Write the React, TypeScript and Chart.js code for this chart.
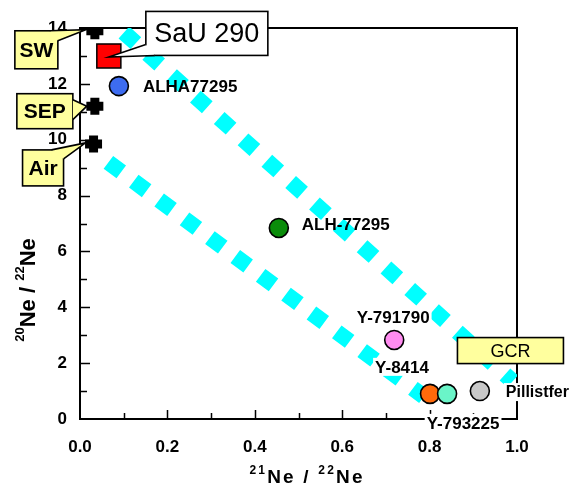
import { useEffect, useRef } from 'react';
import { Chart, registerables } from 'chart.js';

Chart.register(...registerables);

// ---------- data ----------
const xTickLabels = ['0.0', '0.2', '0.4', '0.6', '0.8', '1.0'];
const yTickLabels = ['0', '2', '4', '6', '8', '10', '12', '14'];

const componentNames = ['SW', 'SEP', 'Air'];
const componentX = [0.034, 0.034, 0.031];
const componentY = [13.9, 11.2, 9.85];

const sauName = 'SaU 290';
const sauX = [0.066];
const sauY = [13.0];

const meteoriteNames = ['ALHA77295', 'ALH-77295', 'Y-791790', 'Y-8414', 'Y-793225', 'Pillistfer'];
const meteoriteX = [0.089, 0.455, 0.719, 0.801, 0.84, 0.915];
const meteoriteY = [11.92, 6.84, 2.83, 0.9, 0.9, 1.0];
const meteoriteColors = ['#3d6cf0', '#0a8c0a', '#ff8cf0', '#ff6a0a', '#6af5c8', '#c8c8c8'];

const upperBandX = [0.1005, 0.99];
const upperBandY = [13.84, 1.35];
const lowerBandX = [0.065, 0.787];
const lowerBandY = [9.19, 0.806];

const gcrLabel = 'GCR';
const gcrX = [0.985];
const gcrY = [2.45];

// ---------- styles ----------
const F = '"Liberation Sans", Arial, sans-serif';
const YELLOW = '#ffff9e';

// label placement (pixel offsets from marker), white = knock-out background
const labelStyles = [
  { dx: 24, dy: 0, align: 'left', white: false, size: 17 },
  { dx: 23, dy: -4, align: 'left', white: false, size: 17 },
  { dx: -1, dy: -23, align: 'center', white: true, size: 17 },
  { dx: -28, dy: -27, align: 'center', white: true, size: 17 },
  { dx: 16, dy: 29, align: 'center', white: true, size: 17 },
  { dx: 26, dy: 1, align: 'left', white: true, size: 16 },
];

// callout boxes relative to the marker pixel
const calloutStyles = [
  { dx: -80, dy: 0, w: 43, h: 38, size: 21 },
  { dx: -78, dy: -12.5, w: 56, h: 35, size: 21 },
  { dx: -71, dy: 6, w: 41, h: 36, size: 21 },
];

function drawRich(ctx: CanvasRenderingContext2D, parts: { t: string; font: string; dy: number }[], x: number, y: number, spacing: number) {
  const widths = parts.map((p) => {
    ctx.font = p.font;
    let w = 0;
    for (const ch of p.t) w += ctx.measureText(ch).width + spacing;
    return w;
  });
  const total = widths.reduce((a, b) => a + b, 0) - spacing;
  let cx = x - total / 2;
  ctx.textAlign = 'left';
  ctx.textBaseline = 'alphabetic';
  parts.forEach((p) => {
    ctx.font = p.font;
    for (const ch of p.t) {
      ctx.fillText(ch, cx, y + p.dy);
      cx += ctx.measureText(ch).width + spacing;
    }
  });
}

function callout(ctx: CanvasRenderingContext2D, bx: number, by: number, w: number, h: number, fill: string, poly: number[][], text: string, font: string) {
  ctx.save();
  ctx.lineWidth = 1.6;
  ctx.strokeStyle = '#000';
  ctx.fillStyle = fill;
  ctx.fillRect(bx, by, w, h);
  ctx.strokeRect(bx, by, w, h);
  if (poly.length) {
    ctx.beginPath();
    ctx.moveTo(poly[0][0], poly[0][1]);
    ctx.lineTo(poly[1][0], poly[1][1]);
    ctx.lineTo(poly[2][0], poly[2][1]);
    ctx.closePath();
    ctx.fill();
    ctx.beginPath();
    ctx.moveTo(poly[0][0], poly[0][1]);
    ctx.lineTo(poly[1][0], poly[1][1]);
    ctx.lineTo(poly[2][0], poly[2][1]);
    ctx.stroke();
  }
  ctx.fillStyle = '#000';
  ctx.font = font;
  ctx.textAlign = 'center';
  ctx.textBaseline = 'middle';
  ctx.fillText(text, bx + w / 2, by + h / 2 + 1);
  ctx.restore();
}

const decorPlugin = {
  id: 'decor',
  beforeDatasetsDraw(chart: any) {
    const { ctx, chartArea: a, scales } = chart;
    const xs = scales.x;
    const ys = scales.y;
    ctx.save();
    ctx.strokeStyle = '#000';
    ctx.lineWidth = 2;
    ctx.strokeRect(a.left, a.top, a.right - a.left, a.bottom - a.top);
    ctx.lineWidth = 1.5;
    ctx.beginPath();
    for (let i = 1; i < 10; i++) {
      const v = i / 10;
      const px = Math.round(xs.getPixelForValue(v)) + 0.5;
      const len = i % 2 === 0 ? 9 : 6;
      ctx.moveTo(px, a.bottom);
      ctx.lineTo(px, a.bottom - len);
    }
    for (let i = 1; i < 14; i++) {
      const py = Math.round(ys.getPixelForValue(i)) + 0.5;
      const len = i % 2 === 0 ? 10 : 7;
      ctx.moveTo(a.left, py);
      ctx.lineTo(a.left + len, py);
    }
    ctx.stroke();
    ctx.restore();
  },
  afterDatasetsDraw(chart: any) {
    const { ctx, scales } = chart;
    const xs = scales.x;
    const ys = scales.y;
    ctx.save();
    // meteorite labels
    meteoriteNames.forEach((name, i) => {
      const st = labelStyles[i];
      const px = xs.getPixelForValue(meteoriteX[i]) + st.dx;
      const py = ys.getPixelForValue(meteoriteY[i]) + st.dy;
      ctx.font = `bold ${st.size}px ${F}`;
      const w = ctx.measureText(name).width;
      const left = st.align === 'center' ? px - w / 2 : px;
      if (st.white) {
        ctx.fillStyle = '#fff';
        ctx.fillRect(left - 2, py - 9, w + 4, 18);
      }
      ctx.fillStyle = '#000';
      ctx.textAlign = 'left';
      ctx.textBaseline = 'middle';
      ctx.fillText(name, left, py + 1);
    });
    // component callouts
    componentNames.forEach((name, i) => {
      const st = calloutStyles[i];
      const px = xs.getPixelForValue(componentX[i]);
      const py = ys.getPixelForValue(componentY[i]);
      const bx = px + st.dx;
      const by = py + st.dy;
      const r = bx + st.w;
      let poly: number[][];
      if (i === 0) poly = [[r - 8, by], [px - 9, py - 1], [r, by + 10]];
      else if (i === 1) poly = [[r, by + 6], [px - 8, py], [r, by + 26]];
      else poly = [[r - 12, by], [px - 8, py - 1], [r, by + 9]];
      callout(ctx, bx, by, st.w, st.h, YELLOW, poly, name, `bold ${st.size}px ${F}`);
    });
    // SaU 290 callout
    {
      const px = xs.getPixelForValue(sauX[0]);
      const py = ys.getPixelForValue(sauY[0]);
      const bx = px + 37;
      const by = py - 44.5;
      const w = 122;
      const h = 44;
      callout(ctx, bx, by, w, h, '#fff', [[bx, by + h - 11], [px, py + 1], [bx + 9, by + h]], sauName, `27px ${F}`);
    }
    // GCR box
    {
      const cx = xs.getPixelForValue(gcrX[0]);
      const cy = ys.getPixelForValue(gcrY[0]);
      callout(ctx, cx - 53, cy - 13, 106, 26, YELLOW, [], gcrLabel, `18px ${F}`);
    }
    // axis titles
    ctx.fillStyle = '#000';
    drawRich(ctx, [
      { t: '21', font: `bold 12px ${F}`, dy: -9 },
      { t: 'Ne / ', font: `bold 19px ${F}`, dy: 0 },
      { t: '22', font: `bold 12px ${F}`, dy: -9 },
      { t: 'Ne', font: `bold 19px ${F}`, dy: 0 },
    ], 306, 483, 2.2);
    ctx.save();
    ctx.translate(35, 290);
    ctx.rotate(-Math.PI / 2);
    drawRich(ctx, [
      { t: '20', font: `bold 13px ${F}`, dy: -11 },
      { t: 'Ne / ', font: `bold 22px ${F}`, dy: 0 },
      { t: '22', font: `bold 13px ${F}`, dy: -11 },
      { t: 'Ne', font: `bold 22px ${F}`, dy: 0 },
    ], 0, 0, 0);
    ctx.restore();
    ctx.restore();
  },
};

export default function App() {
  const ref = useRef<HTMLCanvasElement>(null);
  useEffect(() => {
    const canvas = ref.current;
    if (!canvas) return;
    const chart = new Chart(canvas, {
      type: 'scatter',
      data: {
        datasets: [
          {
            label: 'components',
            data: componentX.map((x, i) => ({ x, y: componentY[i] })),
            pointStyle: 'cross',
            pointRadius: 8.5,
            pointBorderWidth: 9,
            borderColor: '#000',
            backgroundColor: '#000',
            order: 1,
          },
          {
            label: sauName,
            data: sauX.map((x, i) => ({ x, y: sauY[i] })),
            pointStyle: 'rect',
            pointRadius: 17,
            pointBorderWidth: 1.5,
            borderColor: '#000',
            backgroundColor: '#ff0000',
            order: 1,
          },
          {
            label: 'meteorites',
            data: meteoriteX.map((x, i) => ({ x, y: meteoriteY[i] })),
            pointStyle: 'circle',
            pointRadius: 9.5,
            pointBorderWidth: 1.6,
            borderColor: '#000',
            backgroundColor: meteoriteColors,
            order: 0,
          },
          {
            label: 'upper',
            data: upperBandX.map((x, i) => ({ x, y: upperBandY[i] })),
            showLine: true,
            pointRadius: 0,
            borderColor: '#00ffff',
            borderWidth: 16,
            borderDash: [16, 16],
            borderCapStyle: 'butt',
            order: 5,
          },
          {
            label: 'lower',
            data: lowerBandX.map((x, i) => ({ x, y: lowerBandY[i] })),
            showLine: true,
            pointRadius: 0,
            borderColor: '#00ffff',
            borderWidth: 16,
            borderDash: [16, 15.6],
            borderCapStyle: 'butt',
            order: 5,
          },
        ],
      },
      options: {
        responsive: false,
        animation: false,
        events: [],
        layout: { padding: { left: 0, right: 55, top: 28, bottom: 0 } },
        plugins: { legend: { display: false }, tooltip: { enabled: false } },
        scales: {
          x: {
            type: 'linear',
            min: 0,
            max: 1,
            grid: { display: false, drawTicks: false },
            border: { display: false },
            ticks: {
              stepSize: 0.2,
              autoSkip: false,
              maxRotation: 0,
              padding: 18,
              color: '#000',
              font: { family: F, size: 17, weight: 'bold' },
              callback: (v: any) => xTickLabels[Math.round(Number(v) / 0.2)] ?? '',
            },
            afterFit: (s: any) => {
              s.height = 68;
            },
          },
          y: {
            type: 'linear',
            min: 0,
            max: 14,
            grid: { display: false, drawTicks: false },
            border: { display: false },
            ticks: {
              stepSize: 2,
              autoSkip: false,
              padding: 13,
              color: '#000',
              font: { family: F, size: 17, weight: 'bold' },
              callback: (v: any) => yTickLabels[Math.round(Number(v) / 2)] ?? '',
            },
            afterFit: (s: any) => {
              s.width = 80;
            },
          },
        },
      },
      plugins: [decorPlugin],
    } as any);
    return () => chart.destroy();
  }, []);
  return (
    <div style={{ position: 'absolute', left: 0, top: 0, width: 572, height: 487, background: '#fff' }}>
      <canvas ref={ref} width={572} height={487} style={{ display: 'block' }} />
    </div>
  );
}
